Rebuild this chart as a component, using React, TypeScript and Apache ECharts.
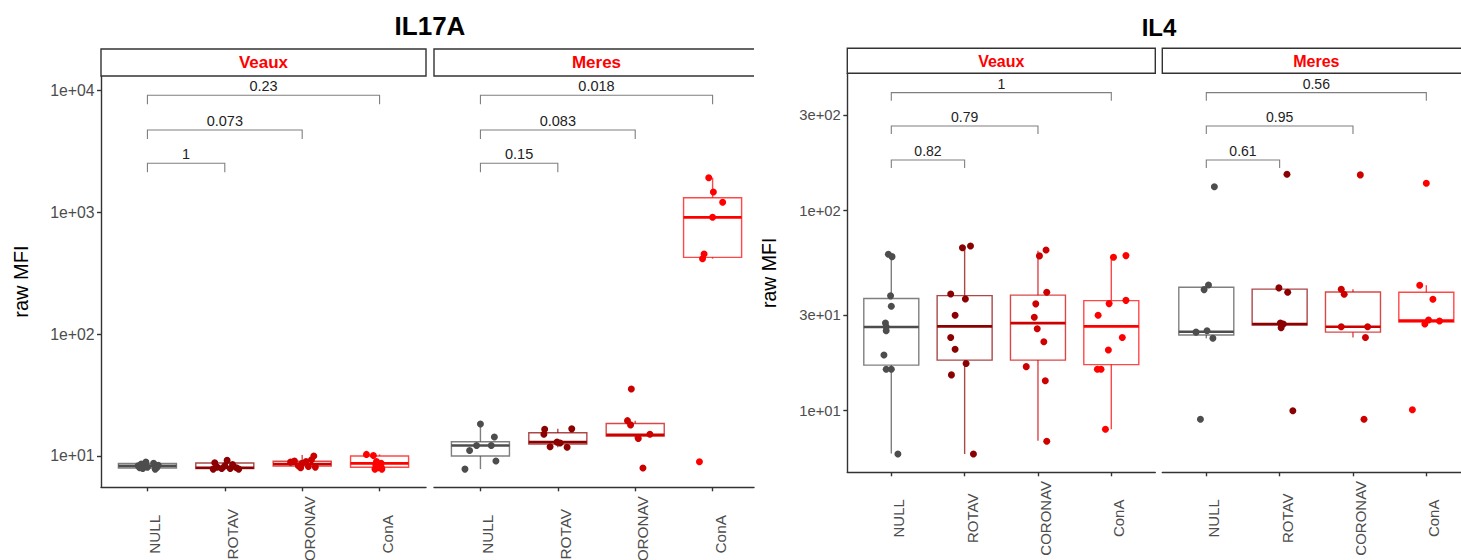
import React, { useEffect, useRef } from 'react';
import * as echarts from 'echarts';

const categories = ['NULL', 'ROTAV', 'CORONAV', 'ConA'];
const groupColors = ['#4D4D4D', '#8B0000', '#CD0000', '#FF0000'];
const facets = ['Veaux', 'Meres'];
const titles = ['IL17A', 'IL4'];

const il17aTicks = [10, 100, 1000, 10000];
const il4Ticks = [10, 30, 100, 300];

// box stats: [category, lower whisker, Q1, median, Q3, upper whisker]
const il17aVeauxBoxes = [
  [0, 7.8, 7.97, 8.3, 8.7, 9.0],
  [1, 7.75, 7.9, 8.0, 8.75, 9.2],
  [2, 8.0, 8.28, 8.6, 9.05, 10.2],
  [3, 7.8, 8.07, 8.7, 10.0, 10.3],
];
const il17aMeresBoxes = [
  [0, 7.8, 10.0, 12.2, 13.1, 18.3],
  [1, 11.8, 12.5, 13.0, 15.5, 16.7],
  [2, 13.9, 14.6, 14.9, 18.5, 19.5],
  [3, 417, 428, 912, 1322, 1930],
];
const il4VeauxBoxes = [
  [0, 6.1, 16.9, 26.2, 36.4, 60],
  [1, 6.07, 17.9, 26.4, 37.6, 66.6],
  [2, 7.08, 17.9, 27.4, 37.8, 63.1],
  [3, 8.07, 17.0, 26.4, 35.5, 59.6],
];
const il4MeresBoxes = [
  [0, 23.0, 23.9, 24.8, 41.4, 42.5],
  [1, 26.0, 26.8, 27.1, 40.5, 41.1],
  [2, 23.2, 24.7, 26.3, 39.2, 40.5],
  [3, 27.1, 27.7, 28.2, 39.1, 42.4],
];

// points: [category, jitter, value]
const il17aVeauxPoints = [
  [0, -0.12, 8.3], [0, -0.1, 8.0], [0, -0.08, 8.6], [0, -0.06, 7.9], [0, -0.04, 8.2], [0, -0.02, 8.9],
  [0, 0.0, 8.1], [0, 0.08, 8.7], [0, 0.1, 7.8], [0, 0.12, 8.0], [0, 0.14, 8.4],
  [1, -0.15, 7.8], [1, -0.13, 8.8], [1, -0.1, 8.1], [1, -0.04, 7.9], [1, 0.0, 8.3], [1, 0.03, 9.2],
  [1, 0.07, 7.9], [1, 0.1, 8.5], [1, 0.15, 8.0], [1, 0.18, 7.8],
  [2, -0.15, 8.9], [2, -0.1, 9.1], [2, -0.05, 8.3], [2, -0.02, 8.0], [2, 0.0, 8.7], [2, 0.05, 9.0],
  [2, 0.08, 8.2], [2, 0.12, 9.3], [2, 0.15, 10.0], [2, 0.17, 8.1],
  [3, -0.17, 10.3], [3, -0.08, 10.1], [3, -0.04, 9.0], [3, 0.02, 8.7], [3, -0.02, 8.0], [3, -0.06, 7.8],
  [3, 0.03, 7.8], [3, 0.0, 8.3], [3, -0.05, 8.5], [3, 0.02, 8.1],
];
const il17aMeresPoints = [
  [0, 0.0, 18.3], [0, 0.18, 14.3], [0, 0.14, 12.2], [0, -0.05, 12.2], [0, -0.14, 11.1], [0, 0.2, 9.1], [0, -0.2, 7.8],
  [1, -0.17, 16.6], [1, -0.18, 15.1], [1, 0.18, 16.7], [1, -0.01, 13.0], [1, 0.03, 12.8], [1, -0.1, 11.9], [1, 0.12, 11.8],
  [2, -0.05, 35.5], [2, -0.1, 19.5], [2, -0.06, 18.0], [2, 0.04, 13.9], [2, 0.19, 15.1], [2, 0.1, 7.97],
  [3, -0.05, 1930], [3, 0.01, 1472], [3, 0.13, 1211], [3, 0.0, 912], [3, -0.11, 456], [3, -0.13, 417], [3, -0.17, 8.97],
];
const il4VeauxPoints = [
  [0, -0.04, 60.5], [0, 0.01, 58.9], [0, -0.01, 37.5], [0, 0.0, 33.3], [0, -0.08, 27.4], [0, -0.07, 26.3],
  [0, -0.07, 25.1], [0, -0.1, 19.0], [0, -0.07, 16.1], [0, 0.0, 16.1], [0, 0.09, 6.07],
  [1, -0.03, 65.3], [1, 0.08, 66.6], [1, -0.19, 38.3], [1, 0.01, 36.2], [1, -0.13, 30.0], [1, -0.19, 23.2],
  [1, -0.13, 20.3], [1, 0.02, 17.2], [1, -0.18, 15.1], [1, 0.12, 6.07],
  [2, 0.02, 59.4], [2, 0.11, 63.6], [2, 0.12, 39.1], [2, -0.03, 34.2], [2, -0.05, 29.3], [2, -0.01, 25.7],
  [2, 0.08, 22.1], [2, -0.16, 16.6], [2, 0.1, 14.1], [2, 0.12, 7.03],
  [3, 0.03, 58.5], [3, 0.2, 59.6], [3, -0.03, 34.3], [3, 0.2, 35.6], [3, -0.18, 30.0], [3, 0.15, 23.2],
  [3, -0.04, 20.1], [3, -0.19, 16.1], [3, -0.14, 16.1], [3, -0.08, 8.07],
];
const il4MeresPoints = [
  [0, 0.11, 131.8], [0, 0.03, 42.5], [0, -0.03, 40.3], [0, -0.14, 24.7], [0, 0.01, 25.1], [0, 0.09, 23.0], [0, -0.08, 9.06],
  [1, 0.1, 152], [1, -0.01, 41.1], [1, 0.11, 39.1], [1, 0.01, 27.4], [1, 0.05, 27.1], [1, 0.02, 26.0], [1, 0.18, 10.0],
  [2, 0.1, 150.9], [2, -0.16, 40.5], [2, -0.12, 38.2], [2, -0.16, 26.3], [2, 0.2, 26.3], [2, 0.17, 23.2], [2, 0.15, 9.06],
  [3, 0.0, 137], [3, -0.09, 42.4], [3, 0.09, 36.1], [3, 0.03, 28.4], [3, -0.02, 27.1], [3, 0.18, 28.1], [3, -0.19, 10.1],
];

// comparison brackets: [from category, to category]
const bracketPairs = [[0, 1], [0, 2], [0, 3]];
const il17aBracketY = [2534, 4755, 9167];
const il4BracketY = [179, 265, 389];
const il17aVeauxP = ['1', '0.073', '0.23'];
const il17aMeresP = ['0.15', '0.083', '0.018'];
const il4VeauxP = ['0.82', '0.79', '1'];
const il4MeresP = ['0.61', '0.95', '0.56'];

const FONT = "'Liberation Sans', Arial, Helvetica, sans-serif";
const AXIS_COLOR = '#333333';

function sci(v: number): string {
  const e = Math.floor(Math.log10(v) + 1e-9);
  const m = Math.round(v / Math.pow(10, e));
  return `${m}e+${String(e).padStart(2, '0')}`;
}

function buildOption() {
  const panels = [
    { rect: { left: 101, top: 76, width: 325, height: 411.3 }, xMax: 3.6, yMin: 5.53, yMax: 13204, ticks: il17aTicks,
      showY: true, boxes: il17aVeauxBoxes, points: il17aVeauxPoints, bY: il17aBracketY, pl: il17aVeauxP,
      xFont: 15.3, yFont: 15.8, tip: 9, pFont: 14.5, pOff: 9.5, xMargin: 47, nameGap: 70, nameFont: 20 },
    { rect: { left: 434, top: 76, width: 320, height: 411.3 }, xMax: 3.535, yMin: 5.53, yMax: 13204, ticks: il17aTicks,
      showY: false, boxes: il17aMeresBoxes, points: il17aMeresPoints, bY: il17aBracketY, pl: il17aMeresP,
      xFont: 15.3, yFont: 15.8, tip: 9, pFont: 14.5, pOff: 9.5, xMargin: 47, nameGap: 70, nameFont: 20 },
    { rect: { left: 847.3, top: 73.3, width: 308, height: 399 }, xMax: 3.6, yMin: 4.92, yMax: 486, ticks: il4Ticks,
      showY: true, boxes: il4VeauxBoxes, points: il4VeauxPoints, bY: il4BracketY, pl: il4VeauxP,
      xFont: 15, yFont: 14.8, tip: 8, pFont: 14, pOff: 9, xMargin: 46, nameGap: 68, nameFont: 19.5 },
    { rect: { left: 1162.3, top: 73.3, width: 298.7, height: 399 }, xMax: 3.473, yMin: 4.92, yMax: 486, ticks: il4Ticks,
      showY: false, boxes: il4MeresBoxes, points: il4MeresPoints, bY: il4BracketY, pl: il4MeresP,
      xFont: 15, yFont: 14.8, tip: 8, pFont: 14, pOff: 9, xMargin: 46, nameGap: 68, nameFont: 19.5 },
  ];

  const axisLine = { color: AXIS_COLOR, width: 1.4 };
  const grid: any[] = [];
  const xAxis: any[] = [];
  const yAxis: any[] = [];
  const series: any[] = [];

  panels.forEach((p, i) => {
    grid.push({ ...p.rect, containLabel: false, outerBoundsMode: 'none' });
    xAxis.push({
      type: 'value', gridIndex: i, min: -0.6, max: p.xMax,
      axisLine: { show: true, onZero: false, lineStyle: axisLine },
      axisTick: { show: true, customValues: [0, 1, 2, 3], length: 4, lineStyle: axisLine },
      axisLabel: {
        customValues: [0, 1, 2, 3], formatter: (v: number) => categories[Math.round(v)] ?? '',
        rotate: 90, align: 'center', verticalAlign: 'top', margin: p.xMargin,
        color: '#4D4D4D', fontSize: p.xFont, fontFamily: FONT,
      },
      splitLine: { show: false },
    });
    yAxis.push({
      type: 'log', logBase: 10, gridIndex: i, min: p.yMin, max: p.yMax,
      axisLine: { show: p.showY, onZero: false, lineStyle: axisLine },
      axisTick: { show: p.showY, customValues: p.ticks, length: 4, lineStyle: axisLine },
      axisLabel: {
        show: p.showY, customValues: p.ticks, formatter: (v: number) => sci(v), margin: 6.5,
        color: '#4D4D4D', fontSize: p.yFont, fontFamily: FONT,
      },
      splitLine: { show: false },
      minorTick: { show: false },
      name: p.showY ? 'raw MFI' : '', nameLocation: 'middle', nameGap: p.nameGap,
      nameTextStyle: { fontSize: p.nameFont, color: '#000', fontFamily: FONT },
    });

    series.push({
      type: 'custom', xAxisIndex: i, yAxisIndex: i, z: 2,
      data: p.boxes, encode: { x: 0, y: [1, 2, 3, 4, 5] },
      renderItem: (params: any, api: any) => {
        const c = api.value(0);
        const lo = api.value(1), q1 = api.value(2), med = api.value(3), q3 = api.value(4), hi = api.value(5);
        const color = groupColors[c];
        const half = 0.375;
        const tl = api.coord([c - half, q3]);
        const br = api.coord([c + half, q1]);
        const ml = api.coord([c - half, med]);
        const mr = api.coord([c + half, med]);
        const pHi = api.coord([c, hi]);
        const pQ3 = api.coord([c, q3]);
        const pQ1 = api.coord([c, q1]);
        const pLo = api.coord([c, lo]);
        const edge = { stroke: color, lineWidth: 1.4, opacity: 0.72, fill: 'none' };
        return {
          type: 'group',
          children: [
            { type: 'line', shape: { x1: pQ3[0], y1: pQ3[1], x2: pHi[0], y2: pHi[1] }, style: edge },
            { type: 'line', shape: { x1: pQ1[0], y1: pQ1[1], x2: pLo[0], y2: pLo[1] }, style: edge },
            { type: 'rect', shape: { x: tl[0], y: tl[1], width: br[0] - tl[0], height: br[1] - tl[1] }, style: edge },
            { type: 'line', shape: { x1: ml[0], y1: ml[1], x2: mr[0], y2: mr[1] }, style: { stroke: color, lineWidth: 2.6 } },
          ],
        };
      },
    });

    series.push({
      type: 'scatter', xAxisIndex: i, yAxisIndex: i, z: 3, symbol: 'circle', symbolSize: 7,
      data: p.points.map(([c, j, v]) => ({ value: [c + j, v], itemStyle: { color: groupColors[c], opacity: 1 } })),
    });

    series.push({
      type: 'custom', xAxisIndex: i, yAxisIndex: i, z: 4,
      data: bracketPairs.map(([a, b], k) => [a, b, p.bY[k]]),
      encode: { x: [0, 1], y: 2 },
      renderItem: (params: any, api: any) => {
        const a = api.value(0), b = api.value(1), y = api.value(2);
        const p1 = api.coord([a, y]);
        const p2 = api.coord([b, y]);
        return {
          type: 'group',
          children: [
            {
              type: 'polyline',
              shape: { points: [[p1[0], p1[1] + p.tip], [p1[0], p1[1]], [p2[0], p2[1]], [p2[0], p2[1] + p.tip]] },
              style: { stroke: '#7F7F7F', lineWidth: 1.1, fill: 'none' },
            },
            {
              type: 'text', x: (p1[0] + p2[0]) / 2, y: p1[1] - p.pOff,
              style: { text: p.pl[params.dataIndex], textAlign: 'center', textVerticalAlign: 'middle',
                fontSize: p.pFont, fontFamily: FONT, fill: '#222' },
            },
          ],
        };
      },
    });
  });

  const stripStyle = { fill: '#fff', stroke: AXIS_COLOR, lineWidth: 1.4 };
  const stripText = (x: number, y: number, text: string, size: number) => ({
    type: 'text', x, y, z: 10,
    style: { text, textAlign: 'center', textVerticalAlign: 'middle', fontSize: size, fontWeight: 'bold',
      fontFamily: FONT, fill: '#FF0000' },
  });

  const graphic: any[] = [
    // titles
    { type: 'text', x: 430, y: 26, style: { text: titles[0], textAlign: 'center', textVerticalAlign: 'middle',
      fontSize: 26, fontWeight: 'bold', fontFamily: FONT, fill: '#000' } },
    { type: 'text', x: 1159, y: 27, style: { text: titles[1], textAlign: 'center', textVerticalAlign: 'middle',
      fontSize: 24, fontWeight: 'bold', fontFamily: FONT, fill: '#000' } },
    // IL17A strips
    { type: 'rect', shape: { x: 101, y: 49, width: 325, height: 27 }, style: stripStyle, z: 9 },
    stripText(263.5, 62.8, facets[0], 17),
    { type: 'rect', shape: { x: 434, y: 49, width: 320, height: 27 }, style: { fill: '#fff' }, z: 9 },
    { type: 'polyline', shape: { points: [[754, 49], [434, 49], [434, 76], [754, 76]] },
      style: { stroke: AXIS_COLOR, lineWidth: 1.4, fill: 'none' }, z: 9 },
    stripText(596.5, 62.8, facets[1], 17),
    // IL4 strips
    { type: 'rect', shape: { x: 847.3, y: 48.3, width: 308, height: 25 }, style: stripStyle, z: 9 },
    stripText(1001.3, 61.5, facets[0], 16),
    { type: 'rect', shape: { x: 1162.3, y: 48.3, width: 308, height: 25 }, style: stripStyle, z: 9 },
    stripText(1316.3, 61.5, facets[1], 16),
  ];

  return { animation: false, backgroundColor: '#fff', grid, xAxis, yAxis, series, graphic };
}

export default function App() {
  const ref = useRef<HTMLDivElement>(null);
  useEffect(() => {
    const chart = echarts.init(ref.current!, undefined, { renderer: 'svg' });
    chart.setOption(buildOption() as any);
    return () => chart.dispose();
  }, []);
  return <div ref={ref} style={{ position: 'absolute', left: 0, top: 0, width: 1461, height: 560 }} />;
}
